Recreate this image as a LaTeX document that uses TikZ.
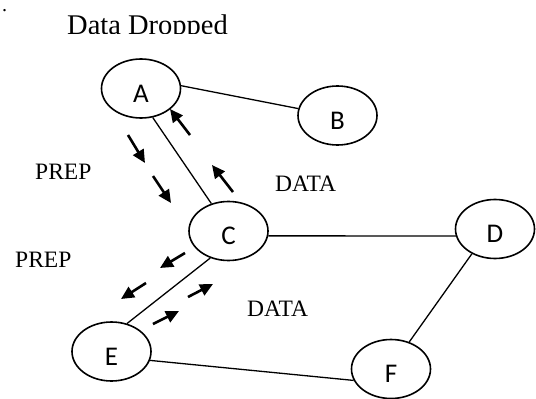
\documentclass[tikz,border=0pt]{standalone}
\usepackage{fontspec}
\setmainfont{Liberation Serif}
\newfontfamily\nodefont{Carlito}
\usetikzlibrary{positioning, arrows.meta, shapes}

\begin{document}
\begin{tikzpicture}[x=1pt,y=-1pt,
		site/.style={ellipse,draw,line width=1.6pt,minimum width=79pt,
			minimum height=59pt,inner sep=0pt},
		letter/.style={font=\nodefont\fontsize{27}{30}\selectfont,yshift=-5pt},
		tag/.style={anchor=base west,inner sep=0pt,font=\fontsize{23.5}{28}\selectfont},
		link/.style={line width=1.3pt},
		flow/.style={line width=2.6pt,-{Triangle[length=13pt,width=12pt]}}]
	\useasboundingbox (0,0) rectangle (536,399);
	% sites
	\node[site,label={[letter]center:A}] (A) at (141,88.5) {};
	\node[site,label={[letter]center:B}] (B) at (337.5,115.5) {};
	\node[site,label={[letter]center:C}] (C) at (228.5,231) {};
	\node[site,label={[letter]center:D}] (D) at (495,229) {};
	\node[site,label={[letter]center:E}] (E) at (111.5,351.5) {};
	\node[site,label={[letter]center:F}] (F) at (391,369) {};
	% links
	\draw[link] (A.4) -- (B.170);
	\draw[link] (A.-68) -- (C.122);
	\draw[link] (C.-7) -- (D.190);
	\draw[link] (C.236) -- (E.61);
	\draw[link] (D.227) -- (F.56);
	\draw[link] (E.-13) -- (F.197);
	% messages
	\foreach \xa/\ya/\xb/\yb in {128/135/145/163, 153/176/171/203,
		190/135/170/109, 233/192/212/165, 185/253/160/268, 146/283/121/299,
		153/324/179/311, 188/297/213/284}
	{\draw[flow] (\xa,\ya) -- (\xb,\yb);}
	% texts
	\node[tag,text height=3pt,font=\fontsize{20}{24}\selectfont] (dot) at (2,11.5) {.};
	\begin{scope}
		\clip (0,0) rectangle (536,33.5);
		\node[tag,font=\fontsize{28.5}{32}\selectfont] (title) at (67,34) {Data Dropped};
	\end{scope}
	\node[tag] (prepA) at (35,179) {PREP};
	\node[tag] (prepB) at (15,267.5) {PREP};
	\node[tag] (dataA) at (275,191) {DATA};
	\node[tag] (dataB) at (247,316) {DATA};
\end{tikzpicture}
\end{document}
